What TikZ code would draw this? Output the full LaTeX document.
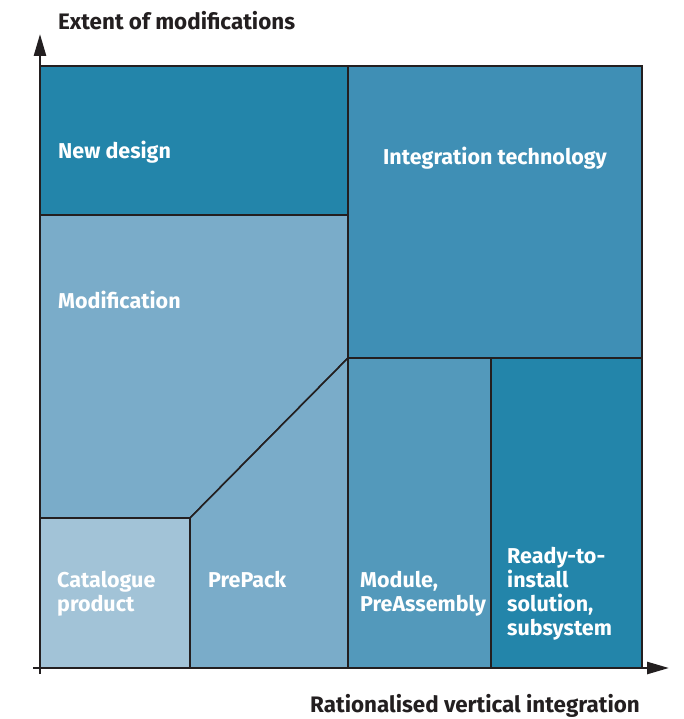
\documentclass[tikz,border=0pt]{standalone}
\usepackage{fontspec}
\setmainfont{Fira Sans}
\usetikzlibrary{arrows.meta,positioning}

\definecolor{darkteal}{HTML}{2385AA}
\definecolor{midteal}{HTML}{3F8FB5}
\definecolor{modteal}{HTML}{5399BB}
\definecolor{paleteal}{HTML}{7AACC9}
\definecolor{lightteal}{HTML}{A2C3D7}
\definecolor{inkline}{HTML}{231F20}

\tikzset{
  area/.style = {draw=inkline, line width=1.6pt, line join=miter},
  lbl/.style = {text=white, font=\bfseries\fontsize{21.5}{24}\selectfont,
                anchor=base west, inner sep=0pt, align=left},
  axlbl/.style = {text=inkline, font=\bfseries\fontsize{22.4}{24}\selectfont,
                  inner sep=0pt},
  axis/.style = {draw=inkline, line width=2.6pt,
                 -{Triangle[length=22pt,width=12pt]}}
}

\begin{document}
\begin{tikzpicture}[x=1pt,y=-1pt]
  \useasboundingbox (0,0) rectangle (684,719);

  % grid points
  \coordinate (tl) at (40,66);
  \coordinate (tm) at (348,66);
  \coordinate (tr) at (642,66);
  \coordinate (nl) at (40,215);
  \coordinate (nm) at (348,215);
  \coordinate (ml) at (348,358);
  \coordinate (mm) at (491,358);
  \coordinate (mr) at (642,358);
  \coordinate (cl) at (40,518);
  \coordinate (cm) at (190,518);
  \coordinate (bl) at (40,668);
  \coordinate (bc) at (190,668);
  \coordinate (bm) at (348,668);
  \coordinate (bn) at (491,668);
  \coordinate (br) at (642,668);

  % areas
  \filldraw[area, fill=darkteal] (tl) -- (tm) -- (nm) -- (nl) -- cycle;
  \filldraw[area, fill=midteal] (tm) -- (tr) -- (mr) -- (ml) -- cycle;
  \filldraw[area, fill=paleteal] (nl) -- (nm) -- (ml) -- (cm) -- (cl) -- cycle;
  \filldraw[area, fill=lightteal] (cl) -- (cm) -- (bc) -- (bl) -- cycle;
  \filldraw[area, fill=paleteal] (cm) -- (ml) -- (bm) -- (bc) -- cycle;
  \filldraw[area, fill=modteal] (ml) -- (mm) -- (bn) -- (bm) -- cycle;
  \filldraw[area, fill=darkteal] (mm) -- (mr) -- (br) -- (bn) -- cycle;

  % labels (base = last line)
  \node[lbl] (newdesign) at (58,159) {New design};
  \node[lbl, anchor=base] (integration) at (495,165) {Integration technology};
  \node[lbl] (modification) at (58,308) {Modification};
  \node[lbl] (catalogue) at (57,611) {Catalogue\\product};
  \node[lbl] (prepack) at (208,587) {PrePack};
  \node[lbl] (module) at (360,611) {Module,\\PreAssembly};
  \node[lbl] (ready) at (507,635) {Ready-to-\\install\\solution,\\subsystem};

  % axes
  \coordinate (ytip) at (40,34);
  \coordinate (ybot) at (40,674);
  \coordinate (xtip) at (669,668);
  \coordinate (xbeg) at (33,668);
  \draw[axis] (ybot) -- (ytip);
  \draw[axis] (xbeg) -- (xtip);

  \node[axlbl, anchor=base west] (ylabel) at (58,30) {Extent of modifications};
  \node[axlbl, anchor=base east] (xlabel) at (640,712) {Rationalised vertical integration};
\end{tikzpicture}
\end{document}
